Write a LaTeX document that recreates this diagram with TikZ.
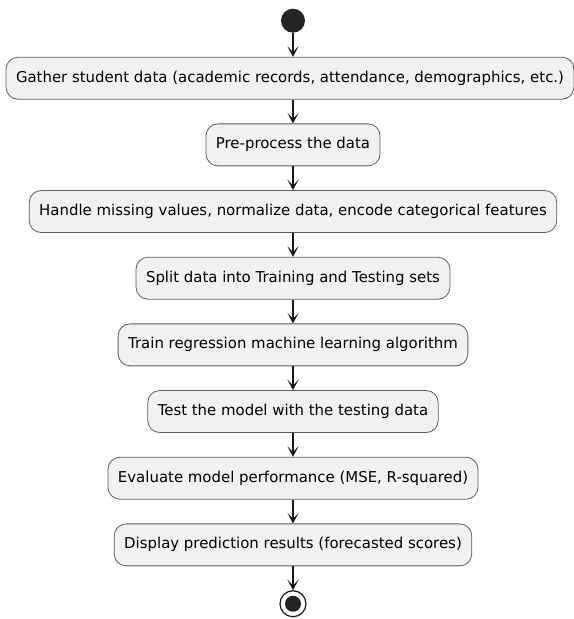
\documentclass[tikz,border=0pt]{standalone}
\usepackage{fontspec}
\setmainfont{DejaVu Sans}
\usepackage{tikz}
\usetikzlibrary{positioning,arrows.meta}
\definecolor{actfill}{HTML}{F1F1F1}
\definecolor{actline}{HTML}{181818}

\begin{document}
\begin{tikzpicture}[
            font=\fontsize{11.2}{13}\selectfont,
            node distance = 17.9pt,
            action/.style={
                rectangle,
                rounded corners = 9pt,
                draw=actline!70,
                line width = 0.6pt,
                fill=actfill,
                minimum height = 31.5pt,
                inner xsep = 7.5pt,
                inner ysep = 0pt
            },
            startdot/.style={
                circle,
                fill=actline!95,
                minimum size = 18pt,
                inner sep = 0pt
            },
            enddot/.style={
                circle,
                draw=actline,
                line width = 0.9pt,
                fill=white,
                minimum size = 19.5pt,
                inner sep = 0pt,
                path picture={\fill[actline!95] (path picture bounding box.center) circle (6pt);}
            },
            flow/.style={
                draw=actline,
                line width = 0.8pt,
                -{Stealth[length=8pt, width=8.5pt, inset=4.5pt]}
            },
        ]

            \useasboundingbox (0,0) rectangle (430.5pt,-464.25pt);

            \node[startdot] (start) at (219.75pt,-15.5pt) {};

            \node[action, below=of start, xshift=-2.25pt] (gather) {Gather student data (academic records, attendance, demographics, etc.)};
            \node[action, below=of gather.south -| start] (prep) {Pre-process the data};
            \node[action, below=of prep] (clean) {Handle missing values, normalize data, encode categorical features};
            \node[action, below=of clean] (split) {Split data into Training and Testing sets};
            \node[action, below=of split] (train) {Train regression machine learning algorithm};
            \node[action, below=of train] (test) {Test the model with the testing data};
            \node[action, below=of test] (eval) {Evaluate model performance (MSE, R-squared)};
            \node[action, below=of eval] (show) {Display prediction results (forecasted scores)};

            \node[enddot, below=of show] (stop) {};

            \draw[flow] (start) -- (start |- gather.north);
            \draw[flow] (start |- gather.south) -- (prep);
            \draw[flow] (prep) -- (clean);
            \draw[flow] (clean) -- (split);
            \draw[flow] (split) -- (train);
            \draw[flow] (train) -- (test);
            \draw[flow] (test) -- (eval);
            \draw[flow] (eval) -- (show);
            \draw[flow] (show) -- (stop);
        \end{tikzpicture}
\end{document}
